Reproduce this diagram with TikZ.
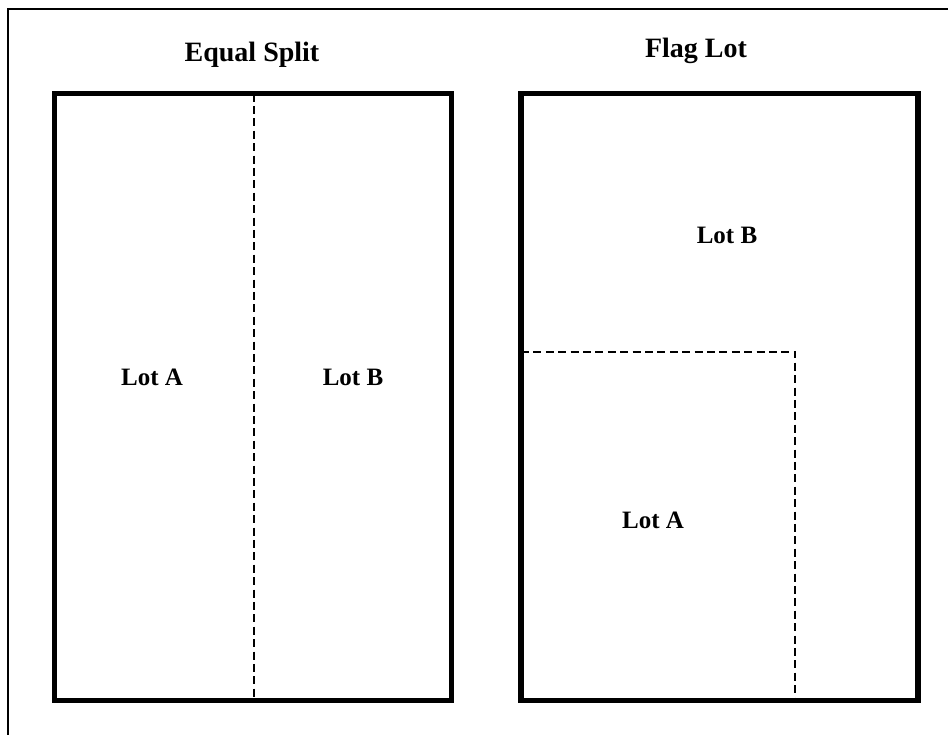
\documentclass[tikz,border=0pt]{standalone}
\usepackage{fontspec}
\setmainfont{Liberation Serif}
\begin{document}
\begin{tikzpicture}[x=0.5pt,y=-0.5pt,
  lotbox/.style={line width=2.6pt, line join=miter},
  divider/.style={line width=1pt, dash pattern=on 4pt off 2.2pt},
  frame/.style={line width=1pt},
  title/.style={font=\bfseries\fontsize{14}{16}\selectfont, inner sep=0pt},
  lotlabel/.style={font=\bfseries\fontsize{12.5}{15}\selectfont, inner sep=0pt}]
\useasboundingbox (0,0) rectangle (948,735);
% outer frame (top and left edges only)
\coordinate (ftl) at (8,9);
\coordinate (ftr) at (948,9);
\coordinate (fbl) at (8,735);
\draw[frame] (ftr) -- (ftl) -- (fbl);
% titles
\node[title] (t1) at (252,55) {Equal Split};
\node[title] (t2) at (696,51) {Flag Lot};
% left parcel
\coordinate (L1) at (54.5,93.5);
\coordinate (L2) at (451.5,700.5);
\coordinate (Ltop) at (254,93.5);
\coordinate (Lbot) at (254,700.5);
\draw[divider] (Ltop) -- (Lbot);
\draw[lotbox] (L1) rectangle (L2);
\node[lotlabel] (la) at (152,377) {Lot A};
\node[lotlabel] (lb) at (353,377) {Lot B};
% right parcel
\coordinate (R1) at (521,93.5);
\coordinate (R2) at (918,700.5);
\coordinate (Rl) at (521,351.5);
\coordinate (Rc) at (795,351.5);
\coordinate (Rb) at (795,700.5);
\draw[divider] (Rl) -- (Rc) -- (Rb);
\draw[lotbox] (R1) rectangle (R2);
\node[lotlabel] (rb) at (727,235) {Lot B};
\node[lotlabel] (ra) at (653,520) {Lot A};
\end{tikzpicture}
\end{document}
